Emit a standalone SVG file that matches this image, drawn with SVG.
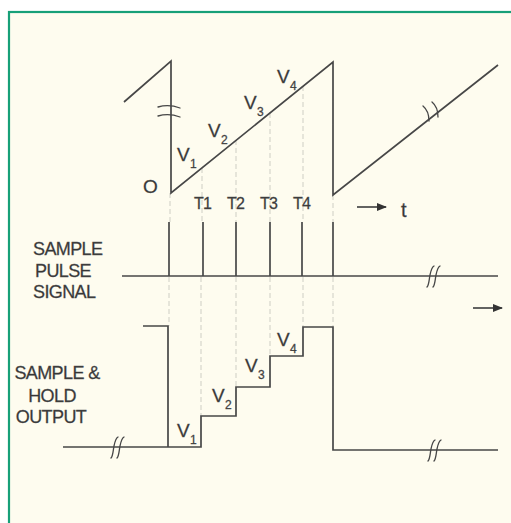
<svg xmlns="http://www.w3.org/2000/svg" width="511" height="523" viewBox="0 0 511 523">
<style>
.ln{fill:none;stroke:#474747;stroke-width:1.7;stroke-linejoin:miter}
.ds{fill:none;stroke:#c9c9c0;stroke-width:0.9;stroke-dasharray:5 3}
.bk{fill:none;stroke:#474747;stroke-width:1.3;stroke-linecap:round}
.tx{font-family:"Liberation Sans",Arial,sans-serif;fill:#363636;stroke:#555;stroke-width:0.3}
.lb{font-size:18px;letter-spacing:-0.6px}
.v{font-size:19px}
.s{font-size:12px}
.t{font-size:16px;letter-spacing:-0.8px}
</style>
<defs>
<marker id="ah" markerWidth="10" markerHeight="8" refX="9" refY="4" orient="auto" markerUnits="userSpaceOnUse">
<path d="M0,0 L10,4 L0,8 Z" fill="#333"/>
</marker>
</defs>
<rect x="0" y="0" width="511" height="523" fill="#ffffff"/>
<rect x="9" y="12" width="520" height="530" fill="#fefcef" stroke="#17a078" stroke-width="2.2"/>

<g id="connectors">
<line class="ds" x1="170" y1="193" x2="170" y2="222"/>
<line class="ds" x1="202" y1="168" x2="202" y2="222"/>
<line class="ds" x1="236" y1="140" x2="236" y2="222"/>
<line class="ds" x1="270" y1="113" x2="270" y2="222"/>
<line class="ds" x1="303" y1="86" x2="303" y2="222"/>
<line class="ds" x1="333" y1="195" x2="333" y2="222"/>
<line class="ds" x1="169" y1="277" x2="169" y2="326"/>
<line class="ds" x1="201" y1="277" x2="201" y2="416"/>
<line class="ds" x1="236" y1="277" x2="236" y2="387"/>
<line class="ds" x1="270" y1="277" x2="270" y2="356"/>
<line class="ds" x1="303" y1="277" x2="303" y2="327"/>
<line class="ds" x1="333" y1="277" x2="333" y2="327"/>
</g>

<g id="sawtooth">
<polyline class="ln" points="124,102 171,61 171,193 333,62 333,195 498,65"/>
<path class="bk" d="M158,107 Q169,104 180,108"/>
<path class="bk" d="M158,116 Q169,113 180,117"/>
<path class="bk" d="M423,106 Q429,111 429,121"/>
<path class="bk" d="M432,102 Q438,107 438,117"/>
<text class="tx v" x="143" y="193" font-size="18">O</text>
<text class="tx v" x="177" y="161">V</text><text class="tx s" x="190" y="168">1</text>
<text class="tx v" x="208" y="137">V</text><text class="tx s" x="221" y="144">2</text>
<text class="tx v" x="244" y="109">V</text><text class="tx s" x="257" y="116">3</text>
<text class="tx v" x="277" y="83">V</text><text class="tx s" x="290" y="90">4</text>
<text class="tx t" x="194" y="209">T1</text>
<text class="tx t" x="227" y="209">T2</text>
<text class="tx t" x="260" y="209">T3</text>
<text class="tx t" x="293" y="209">T4</text>
<line class="ln" x1="357" y1="207" x2="386" y2="207" marker-end="url(#ah)"/>
<text class="tx" x="401" y="217" font-size="20">t</text>
</g>

<g id="pulse">
<line class="ln" x1="122" y1="276" x2="498" y2="276"/>
<line class="ln" x1="169" y1="222" x2="169" y2="276"/>
<line class="ln" x1="203" y1="222" x2="203" y2="276"/>
<line class="ln" x1="236" y1="222" x2="236" y2="276"/>
<line class="ln" x1="270" y1="222" x2="270" y2="276"/>
<line class="ln" x1="302" y1="222" x2="302" y2="276"/>
<line class="ln" x1="333" y1="222" x2="333" y2="276"/>
<path class="bk" d="M427,287 C429,285 429,280 430,275 C431,270 432,267 434,266"/>
<path class="bk" d="M433,287 C435,285 435,280 436,275 C437,270 438,267 440,266"/>
<text class="tx lb" x="33" y="255">SAMPLE</text>
<text class="tx lb" x="35" y="277">PULSE</text>
<text class="tx lb" x="33" y="298">SIGNAL</text>
<line class="ln" x1="473" y1="308" x2="502" y2="308" marker-end="url(#ah)"/>
</g>

<g id="hold">
<polyline class="ln" points="143,326 168,326 168,447"/>
<polyline class="ln" points="63,447 201,447 201,416 236,416 236,387 270,387 270,356 303,356 303,327 333,327 333,450 498,450"/>
<path class="bk" d="M111,458 C113,456 113,451 114,446 C115,441 116,438 118,437"/>
<path class="bk" d="M117,458 C119,456 119,451 120,446 C121,441 122,438 124,437"/>
<path class="bk" d="M428,461 C430,459 430,454 431,449 C432,444 433,441 435,440"/>
<path class="bk" d="M434,461 C436,459 436,454 437,449 C438,444 439,441 441,440"/>
<text class="tx lb" x="57" y="379" text-anchor="middle">SAMPLE &amp;</text>
<text class="tx lb" x="52" y="402" text-anchor="middle">HOLD</text>
<text class="tx lb" x="51" y="423" text-anchor="middle">OUTPUT</text>
<text class="tx v" x="177" y="437">V</text><text class="tx s" x="190" y="444">1</text>
<text class="tx v" x="212" y="402">V</text><text class="tx s" x="225" y="409">2</text>
<text class="tx v" x="245" y="372">V</text><text class="tx s" x="258" y="379">3</text>
<text class="tx v" x="277" y="346">V</text><text class="tx s" x="290" y="353">4</text>
</g>
</svg>
